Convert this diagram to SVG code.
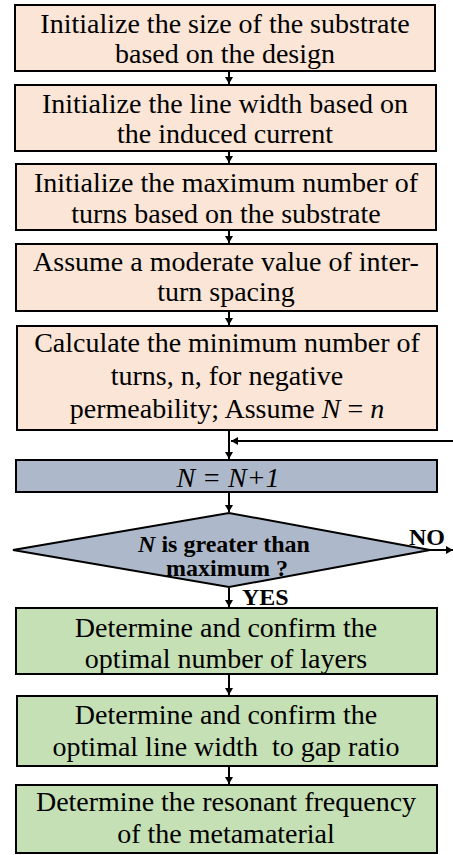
<svg xmlns="http://www.w3.org/2000/svg" width="453" height="855" viewBox="0 0 453 855">
<style>
  .box rect, .box polygon { stroke: #000; stroke-width: 2; }
  .peach { fill: #FBE5D6; }
  .slate { fill: #ADB9CA; }
  .green { fill: #C5E0B4; }
  text { font-family: "Liberation Serif", Tinos, "Times New Roman", Times, "Noto Serif", "DejaVu Serif", serif; fill: #000; }
  .t { font-size: 28px; text-anchor: middle; }
  .b { font-size: 24px; font-weight: bold; }
  .conn line { stroke: #000; stroke-width: 2; fill: none; }
</style>
<defs>
  <marker id="ah" markerWidth="8" markerHeight="8" refX="7" refY="4" orient="auto" markerUnits="userSpaceOnUse">
    <path d="M0,0 L7,4 L0,8 Z" fill="#000"/>
  </marker>
</defs>

<g id="connectors" class="conn">
  <line x1="229" y1="72" x2="229" y2="84" marker-end="url(#ah)"/>
  <line x1="229" y1="152" x2="229" y2="163" marker-end="url(#ah)"/>
  <line x1="229" y1="231" x2="229" y2="243" marker-end="url(#ah)"/>
  <line x1="229" y1="312" x2="229" y2="325" marker-end="url(#ah)"/>
  <line x1="229" y1="431" x2="229" y2="459" marker-end="url(#ah)"/>
  <line x1="453" y1="441" x2="231" y2="441" marker-end="url(#ah)"/>
  <line x1="229" y1="493" x2="229" y2="512" marker-end="url(#ah)"/>
  <line x1="229" y1="588" x2="229" y2="607" marker-end="url(#ah)"/>
  <line x1="430" y1="550" x2="453" y2="550" marker-end="url(#ah)"/>
  <line x1="229" y1="675" x2="229" y2="695" marker-end="url(#ah)"/>
  <line x1="229" y1="767" x2="229" y2="784" marker-end="url(#ah)"/>
</g>

<g id="n1" class="box">
  <rect class="peach" x="15" y="5" width="420" height="66"/>
  <text class="t" x="225" y="33">Initialize the size of the substrate</text>
  <text class="t" x="225" y="63">based on the design</text>
</g>
<g id="n2" class="box">
  <rect class="peach" x="15" y="85" width="421" height="66"/>
  <text class="t" x="225" y="113">Initialize the line width based on</text>
  <text class="t" x="225" y="143">the induced current</text>
</g>
<g id="n3" class="box">
  <rect class="peach" x="16" y="164" width="420" height="66"/>
  <text class="t" x="226" y="192">Initialize the maximum number of</text>
  <text class="t" x="226" y="223">turns based on the substrate</text>
</g>
<g id="n4" class="box">
  <rect class="peach" x="16" y="244" width="421" height="67"/>
  <text class="t" x="226" y="271">Assume a moderate value of inter-</text>
  <text class="t" x="226" y="301">turn spacing</text>
</g>
<g id="n5" class="box">
  <rect class="peach" x="17" y="326" width="420" height="104"/>
  <text class="t" x="227" y="352">Calculate the minimum number of</text>
  <text class="t" x="227" y="385">turns, n, for negative</text>
  <text class="t" x="227" y="418">permeability; Assume <tspan font-style="italic">N</tspan> = <tspan font-style="italic">n</tspan></text>
</g>
<g id="n6" class="box">
  <rect class="slate" x="16" y="460" width="421" height="32"/>
  <text class="t" x="228" y="487" font-style="italic">N = N+1</text>
</g>
<g id="n7" class="box">
  <polygon class="slate" points="13,550 229,513 430,550 229,587"/>
  <text class="b" x="224" y="552" text-anchor="middle"><tspan font-style="italic">N</tspan> is greater than</text>
  <text class="b" x="227" y="576" text-anchor="middle">maximum ?</text>
</g>
<text class="b" x="409" y="545">NO</text>
<text class="b" x="242" y="605">YES</text>
<g id="n8" class="box">
  <rect class="green" x="16" y="608" width="421" height="66"/>
  <text class="t" x="226" y="637">Determine and confirm the</text>
  <text class="t" x="226" y="668">optimal number of layers</text>
</g>
<g id="n9" class="box">
  <rect class="green" x="17" y="696" width="420" height="70"/>
  <text class="t" x="226" y="724">Determine and confirm the</text>
  <text class="t" x="226" y="756" xml:space="preserve">optimal line width  to gap ratio</text>
</g>
<g id="n10" class="box">
  <rect class="green" x="16" y="785" width="421" height="68"/>
  <text class="t" x="226" y="811">Determine the resonant frequency</text>
  <text class="t" x="226" y="843">of the metamaterial</text>
</g>
</svg>
